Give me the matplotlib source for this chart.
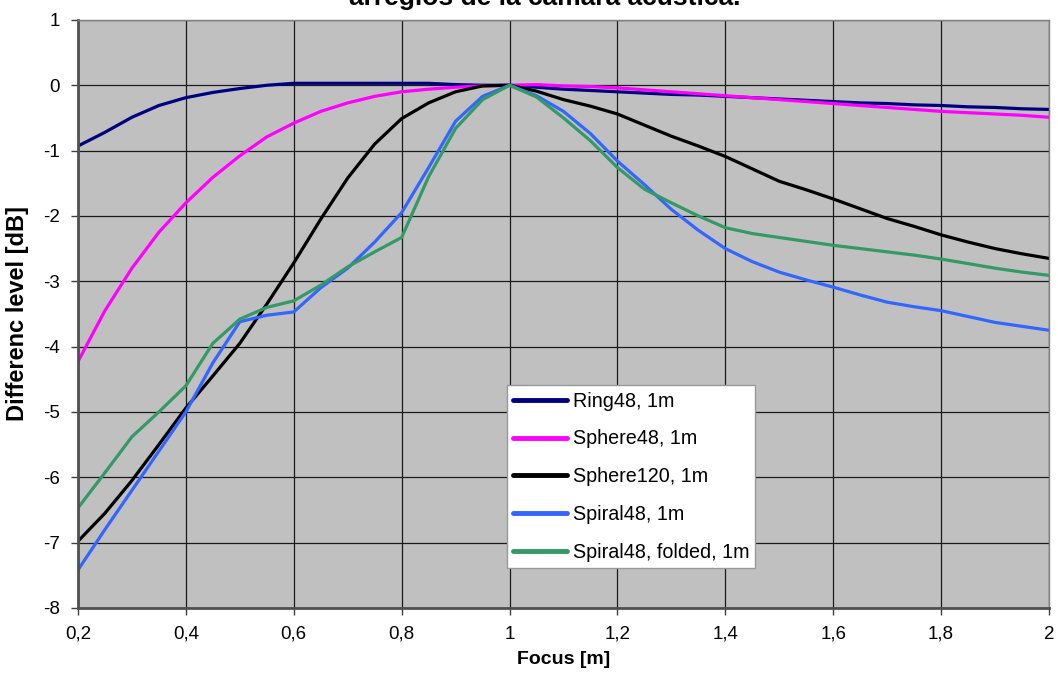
import numpy as np
import matplotlib
matplotlib.use('agg')
from matplotlib import pyplot as plt
from matplotlib.ticker import FuncFormatter

plt.rcParams['font.family'] = ['Liberation Sans', 'DejaVu Sans']
plt.rcParams['axes.unicode_minus'] = False

focus = [0.2, 0.25, 0.3, 0.35, 0.4, 0.45, 0.5, 0.55, 0.6, 0.65, 0.7, 0.75,
         0.8, 0.85, 0.9, 0.95, 1.0, 1.05, 1.1, 1.15, 1.2, 1.25, 1.3, 1.35,
         1.4, 1.45, 1.5, 1.55, 1.6, 1.65, 1.7, 1.75, 1.8, 1.85, 1.9, 1.95, 2.0]

ring48 = [-0.93, -0.72, -0.49, -0.31, -0.19, -0.11, -0.05, 0.0, 0.03, 0.03,
          0.03, 0.03, 0.03, 0.03, 0.01, 0.0, 0.0, -0.03, -0.06, -0.08, -0.1,
          -0.12, -0.14, -0.15, -0.17, -0.19, -0.21, -0.23, -0.25, -0.27,
          -0.28, -0.3, -0.31, -0.33, -0.34, -0.36, -0.37]

sphere48 = [-4.23, -3.45, -2.8, -2.25, -1.8, -1.41, -1.08, -0.79, -0.58, -0.4,
            -0.27, -0.17, -0.1, -0.06, -0.03, -0.01, 0.0, 0.01, -0.01, -0.02,
            -0.04, -0.07, -0.1, -0.13, -0.16, -0.19, -0.22, -0.25, -0.28,
            -0.31, -0.34, -0.37, -0.4, -0.42, -0.44, -0.46, -0.49]

sphere120 = [-6.98, -6.55, -6.05, -5.5, -4.94, -4.45, -3.95, -3.35, -2.72,
             -2.05, -1.42, -0.9, -0.51, -0.27, -0.1, -0.01, 0.0, -0.09, -0.22,
             -0.32, -0.44, -0.61, -0.78, -0.93, -1.09, -1.28, -1.47, -1.6,
             -1.74, -1.89, -2.04, -2.16, -2.29, -2.4, -2.5, -2.58, -2.65]

spiral48 = [-7.42, -6.8, -6.2, -5.6, -5.0, -4.25, -3.62, -3.52, -3.47, -3.1,
            -2.8, -2.4, -1.95, -1.26, -0.55, -0.17, 0.0, -0.16, -0.4, -0.74,
            -1.16, -1.52, -1.9, -2.22, -2.5, -2.7, -2.86, -2.98, -3.09, -3.21,
            -3.32, -3.39, -3.45, -3.54, -3.63, -3.69, -3.75]

spiral48_folded = [-6.47, -5.93, -5.38, -5.0, -4.6, -3.95, -3.58, -3.4, -3.3,
                   -3.06, -2.78, -2.55, -2.33, -1.4, -0.66, -0.22, 0.0, -0.18,
                   -0.5, -0.85, -1.26, -1.59, -1.8, -2.0, -2.18, -2.27, -2.33,
                   -2.39, -2.45, -2.5, -2.55, -2.6, -2.66, -2.73, -2.8, -2.86,
                   -2.91]

series = [
    ("Ring48, 1m", ring48, "#000080"),
    ("Sphere48, 1m", sphere48, "#ff00ff"),
    ("Sphere120, 1m", sphere120, "#000000"),
    ("Spiral48, 1m", spiral48, "#3366ff"),
    ("Spiral48, folded, 1m", spiral48_folded, "#339966"),
]

fig = plt.figure(figsize=(10.58, 6.8), dpi=100)
ax = fig.add_axes([0.0737, 0.106, 0.9178, 0.8647])
ax.set_facecolor('#c0c0c0')

for label, values, color in series:
    ax.plot(focus, values, color=color, lw=2.3, label=label,
            solid_capstyle='round', solid_joinstyle='round')

ax.set_xlim(0.2, 2.0)
ax.set_ylim(-8, 1)
ax.set_xticks(np.arange(0.2, 2.01, 0.2))
ax.set_yticks(range(-8, 2))


def comma(v, pos):
    s = ('%.1f' % v).rstrip('0').rstrip('.')
    return s.replace('.', ',')


ax.xaxis.set_major_formatter(FuncFormatter(comma))
ax.grid(True, color='#1a1a1a', lw=0.9)
ax.set_axisbelow(True)
ax.tick_params(direction='out', length=5, width=1, color='#404040',
               labelsize=13.5, pad=8)

for side in ('left', 'bottom'):
    ax.spines[side].set_color('#505050')
    ax.spines[side].set_linewidth(2)
for side in ('top', 'right'):
    ax.spines[side].set_color('#808080')
    ax.spines[side].set_linewidth(1)

ax.set_xlabel('Focus [m]', fontsize=14, fontweight='bold', labelpad=6)
ax.set_ylabel('Differenc level [dB]', fontsize=17, fontweight='bold', labelpad=10)

leg = ax.legend(loc='lower left', bbox_to_anchor=(0.442, 0.068), fontsize=14.2,
                fancybox=False, framealpha=1, edgecolor='#999999',
                handlelength=2.7, handletextpad=0.3, labelspacing=0.95,
                borderpad=0.32, borderaxespad=0)
for line in leg.get_lines():
    line.set_linewidth(3.5)

fig.text(0.515, 1 - 5 / 680, 'arreglos de la cámara acústica.', ha='center',
         va='baseline', fontsize=19, fontweight='bold')

fig.savefig('out.png', dpi=100)
